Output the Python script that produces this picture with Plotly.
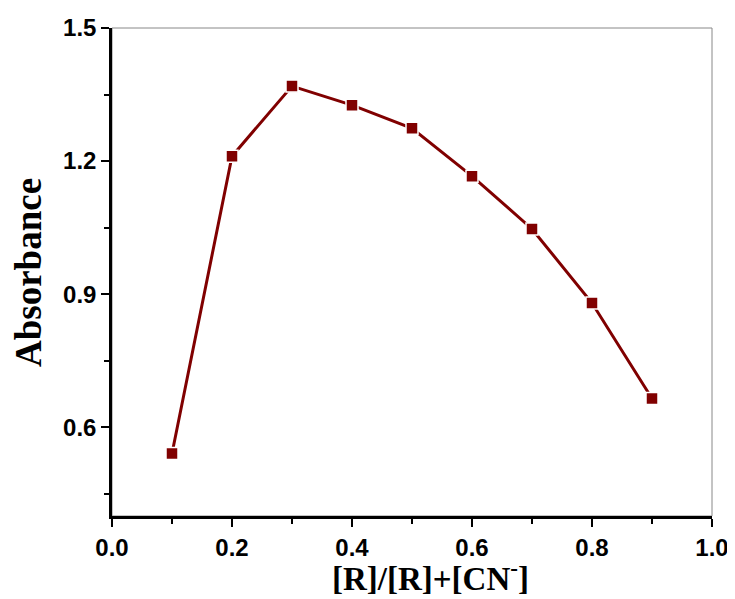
import plotly.graph_objects as go

x_vals = [0.1, 0.2, 0.3, 0.4, 0.5, 0.6, 0.7, 0.8, 0.9]
absorbance = [0.541, 1.211, 1.369, 1.326, 1.274, 1.166, 1.047, 0.880, 0.665]
x_ticks = [0.0, 0.2, 0.4, 0.6, 0.8, 1.0]
y_ticks = [0.6, 0.9, 1.2, 1.5]

color = "#800000"

fig = go.Figure()
fig.add_trace(go.Scatter(
    x=x_vals, y=absorbance, mode="lines+markers",
    line=dict(color=color, width=3),
    marker=dict(symbol="square", size=12, color=color, line=dict(color="white", width=1.5)),
    showlegend=False,
))

tickfont = dict(family="Liberation Sans, Arial", size=24, color="black", weight="bold")
fig.update_xaxes(
    range=[0, 1], tickvals=x_ticks, ticktext=[f"{v:.1f}" for v in x_ticks],
    ticks="outside", ticklen=8, tickwidth=2, tickcolor="black",
    minor=dict(dtick=0.1, tick0=0, ticks="outside", ticklen=5, tickwidth=2, tickcolor="black"),
    showline=True, linecolor="black", linewidth=2.5, showgrid=False, zeroline=False,
    tickfont=tickfont, automargin=False,
)
fig.update_yaxes(
    range=[0.4, 1.5], tickvals=y_ticks, ticktext=[f"{v:.1f}" for v in y_ticks],
    ticks="outside", ticklen=8, tickwidth=2, tickcolor="black",
    minor=dict(dtick=0.15, tick0=0.45, ticks="outside", ticklen=5, tickwidth=2, tickcolor="black"),
    showline=True, linecolor="black", linewidth=2.5, showgrid=False, zeroline=False,
    tickfont=tickfont, automargin=False,
)
serif = "Liberation Serif, Times New Roman"
fig.add_annotation(text="<b>[R]/[R]+[CN<sup>-</sup>]</b>", xref="paper", yref="paper",
                   x=0.53, y=0, yshift=-60, xanchor="center", yanchor="middle",
                   showarrow=False, font=dict(family=serif, size=33, color="black"))
fig.add_annotation(text="<b>Absorbance</b>", xref="paper", yref="paper",
                   x=-0.14, y=0.5, xanchor="center", yanchor="middle", textangle=-90,
                   showarrow=False, font=dict(family=serif, size=37, color="black"))
fig.add_shape(type="rect", xref="paper", yref="paper", x0=0, y0=0, x1=1, y1=1,
              line=dict(color="#888888", width=1), layer="below")
fig.update_layout(
    width=727, height=591, margin=dict(l=104, r=23, t=20, b=83),
    plot_bgcolor="white", paper_bgcolor="white",
)
fig.write_html("out.html")
